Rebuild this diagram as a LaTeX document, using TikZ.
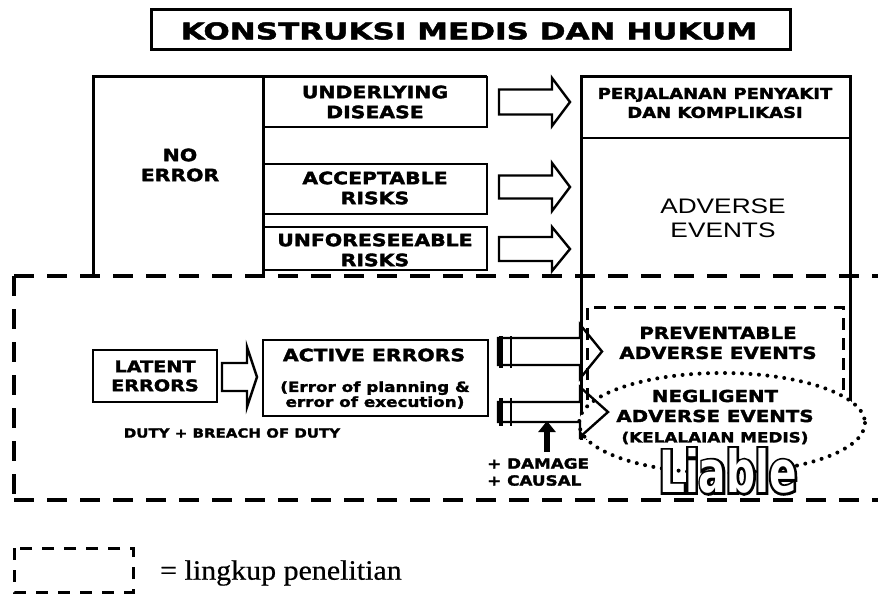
\documentclass[tikz,border=0pt]{standalone}
\usepackage{fontspec}
\setmainfont{Liberation Sans}
\newfontfamily\blk{DejaVu Sans}[FakeStretch=1.2,FakeBold=2]
\newfontfamily\ttlf{DejaVu Sans}[FakeStretch=1.35,FakeBold=2]
\newfontfamily\regf{Liberation Sans}[FakeStretch=1.25]
\newfontfamily\serf{Liberation Serif}[FakeStretch=1.07,FakeBold=0.6]
\newfontfamily\liaf{DejaVu Sans}[FakeStretch=0.7]
\newfontfamily\liafb{DejaVu Sans}[FakeStretch=0.7,FakeBold=8]
\usetikzlibrary{arrows.meta}
\newcommand\hollowarrow[6]{%
  \draw[blockar] (#1,#4-#5) -- (#2,#4-#5) -- (#2,#4-#6) -- (#3,#4) -- (#2,#4+#6) -- (#2,#4+#5) -- (#1,#4+#5) -- cycle;}
\begin{document}
\begin{tikzpicture}[x=1pt,y=-1pt,
  solid box/.style={draw, line width=2.6pt},
  blockar/.style={draw, line width=2.4pt, line join=miter},
  lbl/.style={font=\blk\bfseries\fontsize{17}{20}\selectfont, align=center, inner sep=0pt},
  bigdash/.style={line width=4.5pt, dash pattern=on 20pt off 13pt},
  smalldash/.style={line width=3pt, dash pattern=on 12pt off 8pt},
  dotline/.style={line width=4pt, dash pattern=on 0pt off 8.5pt, line cap=round}]
\useasboundingbox (0,0) rectangle (878,594);
\fill[white] (0,0) rectangle (878,594);

% title
\draw[line width=3pt] (151,10) rectangle (790,50);
\node[inner sep=0pt, font=\ttlf\bfseries\fontsize{23}{26}\selectfont] (title) at (469,31) {KONSTRUKSI MEDIS DAN HUKUM};

% left structure
\draw[line width=3pt] (93,276) -- (93,77) -- (487,77);
\draw[line width=3pt] (263,77) -- (263,276);
\draw[solid box] (263,77) rectangle (487,127);
\draw[solid box] (263,164) rectangle (487,214);
\draw[solid box] (263,227) rectangle (487,270);

\node[lbl] (noerr) at (180,165) {NO\\ERROR};
\node[lbl] (ud) at (375,102) {UNDERLYING\\DISEASE};
\node[lbl] (ar) at (375,188) {ACCEPTABLE\\RISKS};
\node[lbl] (ur) at (375,250) {UNFORESEEABLE\\RISKS};

% right box
\draw[line width=3pt] (581,440) -- (581,77) -- (850,77) -- (850,440);
\draw[line width=2.2pt] (581,138) -- (850,138);
\node[lbl, font=\blk\bfseries\fontsize{15}{19}\selectfont] (pp) at (715,103) {PERJALANAN PENYAKIT\\DAN KOMPLIKASI};
\node[inner sep=0pt, align=center, font=\regf\fontsize{21}{24}\selectfont] (ae) at (723,218) {ADVERSE\\EVENTS};

% big dashed scope
\draw[bigdash] (14,276) -- (878,276);
\draw[bigdash] (14,500) -- (878,500);
\draw[bigdash] (14,276) -- (14,500);

% inner dashed box
\draw[smalldash] (587,440) -- (587,307) -- (843,307) -- (843,440);

% ellipse fill
\fill[white] (722,423) ellipse [x radius=143, y radius=50];

% upper block arrows
\hollowarrow{499}{552}{570}{102}{12.5}{24}
\hollowarrow{499}{552}{570}{187}{11.5}{24}
\hollowarrow{499}{552}{570}{249}{12}{22}

% lower part
\draw[solid box] (93,350) rectangle (217,402);
\node[lbl, font=\blk\bfseries\fontsize{16}{19}\selectfont] (le) at (155,376) {LATENT\\ERRORS};
\hollowarrow{222}{247}{257}{377}{14}{30}
\draw[solid box] (263,340) rectangle (488,416);
\node[lbl] (act) at (374,355) {ACTIVE ERRORS};
\node[lbl, font=\blk\bfseries\fontsize{14}{15}\selectfont] (actsub) at (375,395) {(Error of planning \&\\error of execution)};
\node[lbl, font=\blk\bfseries\fontsize{12.5}{15}\selectfont] (duty) at (232,433) {DUTY + BREACH OF DUTY};

\hollowarrow{498}{580}{602}{351.5}{13.5}{27}
\draw[line width=4pt] (501,336) -- (501,368);
\draw[line width=2pt] (511,336) -- (511,368);
\hollowarrow{498}{580}{608}{412}{10}{25}
\draw[line width=4pt] (501,398) -- (501,426);
\draw[line width=2pt] (511,398) -- (511,426);

\node[lbl, anchor=west, align=left, font=\blk\bfseries\fontsize{14}{17}\selectfont] (dc) at (487,472) {+ DAMAGE\\+ CAUSAL};
\coordinate (upfoot) at (547,452);
\draw[line width=6pt, -{Triangle[length=11pt,width=17pt]}] (upfoot) -- (547,421);

% ellipse outline
\draw[dotline] (722,423) ellipse [x radius=143, y radius=50];

\node[lbl, font=\blk\bfseries\fontsize{16.5}{20}\selectfont] (prev) at (718,343) {PREVENTABLE\\ADVERSE EVENTS};
\node[lbl, font=\blk\bfseries\fontsize{16.5}{20}\selectfont] (negl) at (715,406) {NEGLIGENT\\ADVERSE EVENTS};
\node[lbl, font=\blk\bfseries\fontsize{14}{16}\selectfont] (kel) at (715,438) {(KELALAIAN MEDIS)};
\node[inner sep=0pt, font=\liafb\bfseries\fontsize{58}{60}\selectfont] (liable) at (728,471) {Liable};
\node[inner sep=0pt, text=white, font=\liaf\bfseries\fontsize{58}{60}\selectfont] (liablein) at (liable.center) {Liable};

% legend
\draw[line width=3pt, dash pattern=on 12pt off 10pt] (14,548) rectangle (133,592);
\node[inner sep=0pt, anchor=west, font=\serf\fontsize{28}{30}\selectfont] (leg) at (160,573) {= lingkup penelitian};
\end{tikzpicture}
\end{document}
